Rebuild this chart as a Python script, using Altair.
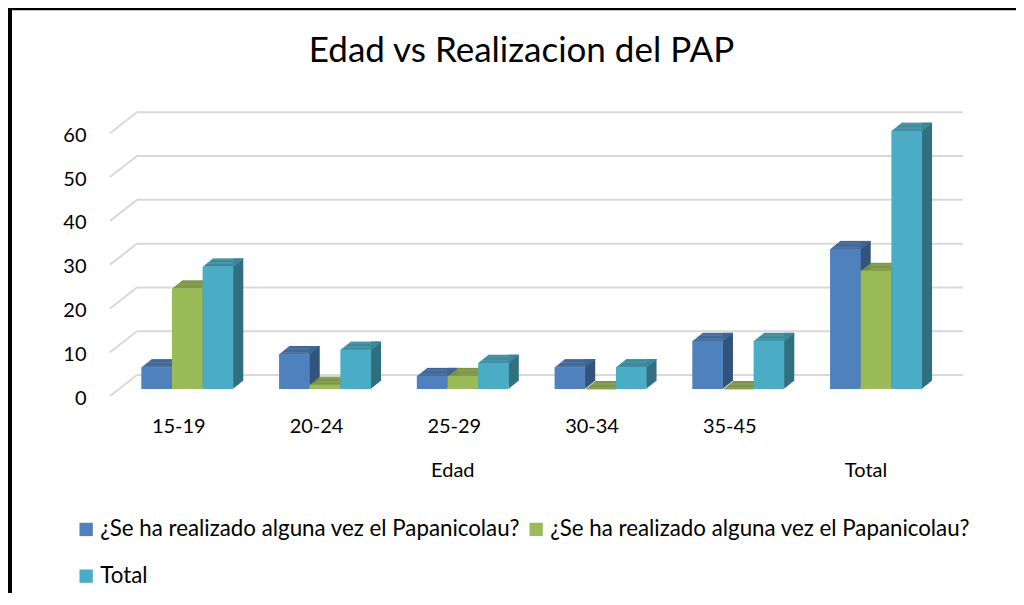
import json
import altair as alt
import pandas as pd

# ---------------- data ----------------
title_text = "Edad vs Realizacion del PAP"
categories = ["15-19", "20-24", "25-29", "30-34", "35-45", "Total"]
tick_labels = ["15-19", "20-24", "25-29", "30-34", "35-45", ""]
group_labels = ["Edad", "Total"]
group_first = [0, 5]
group_last = [4, 5]
series_names = [
    "¿Se ha realizado alguna vez el Papanicolau?",
    "¿Se ha realizado alguna vez el Papanicolau?",
    "Total",
]
serie_1 = [5, 8, 3, 5, 11, 32]
serie_2 = [23, 1, 3, 0, 0, 27]
serie_total = [28, 9, 6, 5, 11, 59]
y_ticks = [0, 10, 20, 30, 40, 50, 60]

# ---------------- style ----------------
FONT = "Lato"
front_colors = ["#4F81BD", "#9BBB59", "#4BACC6"]
top_colors = ["#3F6797", "#7C9647", "#3C8A9E"]
side_colors = ["#33547B", "#657A3A", "#317081"]
GRID = "#D9D9D9"
BAR_W = 0.2226
N = 10
SX = 1.0   # px per depth step (horizontal)
SY = 0.8   # px per depth step (vertical)

rows = []
for si, vals in enumerate([serie_1, serie_2, serie_total]):
    for gi, v in enumerate(vals):
        rows.append({"cat": categories[gi], "gi": gi, "si": si, "value": v})
df = pd.DataFrame(rows)

grp = pd.DataFrame({"label": group_labels, "first": group_first, "last": group_last})
grid_df = pd.DataFrame({"v": y_ticks})

xs = alt.Scale(domain=[-0.5612, 5.6312], nice=False, zero=False)
ys = alt.Scale(domain=[0, 66], nice=False, zero=True)

x_axis = alt.Axis(
    values=list(range(len(categories))),
    labelExpr=f"{json.dumps(tick_labels, ensure_ascii=False)}[datum.value]",
    title=None, grid=False, domain=False, ticks=False,
    labelFont=FONT, labelFontSize=20, labelColor="black",
    labelPadding=27, labelOffset=-9, labelOverlap=False, labelFlush=False,
)
y_axis = alt.Axis(
    values=y_ticks, title=None, grid=False, domain=False, ticks=False,
    labelFont=FONT, labelFontSize=20, labelColor="black",
    labelPadding=24, labelOffset=9, labelOverlap=False, labelFlush=False,
)


def X(field):
    return alt.X(field, scale=xs, axis=x_axis)


def Y(field):
    return alt.Y(field, scale=ys, axis=y_axis)


base = alt.Chart(df).transform_calculate(
    x0=f"datum.gi + (datum.si - 1.5) * {BAR_W}",
    x1=f"datum.gi + (datum.si - 0.5) * {BAR_W}",
    base="0",
)

grid_back = alt.Chart(grid_df).mark_rule(color=GRID, strokeWidth=2, yOffset=-14).encode(
    y=Y("v:Q"), x=alt.value(27), x2=alt.value(853)
)
grid_diag = alt.Chart(grid_df).mark_rule(color=GRID, strokeWidth=2, yOffset=7, y2Offset=-14).encode(
    y=Y("v:Q"), y2="v:Q", x=alt.value(0), x2=alt.value(27)
)

layers = [grid_back, grid_diag]

for k in range(N, 0, -1):
    layers.append(
        base.mark_rect(x2Offset=k * SX, yOffset=-k * SY, y2Offset=-k * SY).encode(
            x=X("x1:Q"), x2="x1:Q", y=Y("value:Q"), y2="base:Q",
            color=alt.Color("si:N", scale=alt.Scale(domain=[0, 1, 2], range=side_colors), legend=None),
        )
    )
for k in range(1, N + 1):
    layers.append(
        base.mark_rect(xOffset=k * SX, x2Offset=k * SX, yOffset=-k * SY,
                       y2Offset=-(k - 1) * SY + 0.4).encode(
            x=X("x0:Q"), x2="x1:Q", y=Y("value:Q"), y2="value:Q",
            color=alt.Color("si:N", scale=alt.Scale(domain=[0, 1, 2], range=top_colors), legend=None),
        )
    )

front = base.mark_rect().encode(
    x=X("x0:Q"), x2="x1:Q", y=Y("value:Q"), y2="base:Q",
    color=alt.Color(
        "si:N",
        scale=alt.Scale(domain=[0, 1, 2], range=front_colors),
        legend=alt.Legend(
            title=None, orient="none", legendX=-35, legendY=418, columns=2, direction="horizontal",
            symbolType="square", symbolSize=178, symbolStrokeWidth=0,
            labelFont=FONT, labelFontSize=22.3, labelColor="black", labelLimit=800,
            labelOffset=3, columnPadding=5, rowPadding=24, padding=0,
            labelExpr=f"{json.dumps(series_names, ensure_ascii=False)}[datum.value]",
        ),
    ),
)
layers.append(front)

group_text = alt.Chart(grp).transform_calculate(
    center="(datum.first + datum.last) / 2"
).mark_text(font=FONT, fontSize=20, color="black", baseline="middle", dx=-10).encode(
    x=X("center:Q"), y=alt.value(371), text="label:N"
)
layers.append(group_text)

title_df = pd.DataFrame({"t": [title_text]})
title_mark = alt.Chart(title_df).mark_text(
    font=FONT, fontSize=35, color="black", baseline="alphabetic", align="center"
).encode(x=alt.value(411.5), y=alt.value(-38), text="t:N")
layers.append(title_mark)

frame_df = pd.DataFrame({"a": [0]})
frame_left = alt.Chart(frame_df).mark_rule(color="black", strokeWidth=4).encode(
    x=alt.value(-100), y=alt.value(-92), y2=alt.value(493)
)
frame_top = alt.Chart(frame_df).mark_rule(color="black", strokeWidth=2.5).encode(
    x=alt.value(-102), x2=alt.value(906), y=alt.value(-91)
)
layers += [frame_left, frame_top]

chart = alt.layer(*layers).resolve_scale(color="independent").properties(
    width=853, height=289,
    background="white",
    autosize=alt.AutoSizeParams(type="none"),
    padding={"left": 102, "top": 92, "right": 53, "bottom": 204},
).configure_view(stroke=None)

chart.save("out.html", embed_options={"renderer": "svg", "actions": False})
